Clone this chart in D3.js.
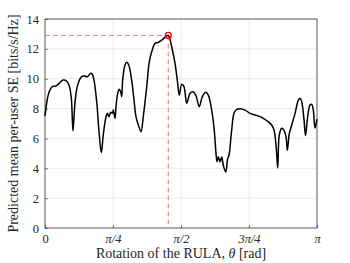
<!DOCTYPE html>
<html>
<head>
<meta charset="utf-8">
<script src="https://cdn.jsdelivr.net/npm/d3@7"></script>
<style>
  body { margin: 0; background: #fff; }
  svg { display: block; }
</style>
</head>
<body>
<div id="chart"></div>
<script>
// rotation angle theta [rad]
const theta = [0.000, 0.046, 0.084, 0.124, 0.162, 0.208, 0.239, 0.277, 0.304, 0.323,
  0.347, 0.373, 0.412, 0.450, 0.489, 0.528, 0.546, 0.566, 0.597, 0.624,
  0.650, 0.673, 0.701, 0.720, 0.739, 0.759, 0.777, 0.789, 0.809, 0.820,
  0.840, 0.858, 0.874, 0.886, 0.897, 0.924, 0.944, 0.967, 1.001, 1.028,
  1.051, 1.078, 1.109, 1.135, 1.175, 1.205, 1.244, 1.271, 1.309, 1.348,
  1.386, 1.424, 1.463, 1.502, 1.528, 1.551, 1.579, 1.605, 1.637, 1.675,
  1.706, 1.741, 1.782, 1.817, 1.856, 1.886, 1.925, 1.955, 1.975, 1.987,
  2.002, 2.021, 2.041, 2.059, 2.087, 2.110, 2.125, 2.156, 2.183, 2.214,
  2.252, 2.310, 2.368, 2.425, 2.483, 2.521, 2.579, 2.618, 2.645, 2.668,
  2.688, 2.706, 2.734, 2.760, 2.784, 2.799, 2.822, 2.850, 2.888, 2.926,
  2.945, 2.965, 2.992, 3.009, 3.034, 3.061, 3.080, 3.099, 3.118, 3.1416];

// predicted mean per-user SE [bits/s/Hz]
const se = [7.5, 9.1, 9.47, 9.5, 9.69, 9.91, 9.89, 9.58, 8.69, 6.5,
  8.46, 9.47, 10.07, 10.2, 10.13, 10.36, 10.3, 9.9, 8.46, 6.45,
  5.05, 6.23, 7.35, 7.68, 7.46, 7.75, 7.68, 7.9, 7.35, 8.13,
  9.02, 9.29, 9.13, 8.8, 9.91, 10.92, 11.1, 10.92, 9.91, 8.57,
  7.46, 6.9, 6.45, 7.46, 9.47, 11.14, 12.03, 12.37, 12.43, 12.59,
  12.77, 12.9, 12.14, 11.03, 9.91, 8.9, 9.62, 9.47, 8.35, 9.02,
  9.13, 8.9, 8.13, 8.8, 9.09, 8.9, 7.9, 6.56, 5.0, 4.44,
  4.78, 4.44, 4.75, 4.2, 3.75, 4.64, 4.87, 6.56, 7.68, 7.95,
  7.99, 7.9, 7.68, 7.57, 7.46, 7.35, 7.12, 6.9, 6.56, 5.56,
  4.02, 6.23, 6.68, 6.56, 6.11, 5.2, 6.34, 6.9, 7.68, 8.57,
  8.69, 8.46, 7.23, 6.2, 7.46, 8.24, 8.28, 7.9, 6.7, 7.3];

const xTicks = [0, Math.PI / 4, Math.PI / 2, 3 * Math.PI / 4, Math.PI];
const xTickLabels = ["0", "π/4", "π/2", "3π/4", "π"];
const yTicks = [0, 2, 4, 6, 8, 10, 12, 14];

const width = 350, height = 263;
const margin = { top: 19, right: 33, bottom: 35, left: 45 };
const innerW = width - margin.left - margin.right;
const innerH = height - margin.top - margin.bottom;

const svg = d3.select("#chart").append("svg")
  .attr("width", width)
  .attr("height", height);

const g = svg.append("g")
  .attr("transform", `translate(${margin.left},${margin.top})`);

const x = d3.scaleLinear().domain([0, Math.PI]).range([0, innerW]);
const y = d3.scaleLinear().domain([0, 14]).range([innerH, 0]);

const font = "'Liberation Serif', 'DejaVu Serif', serif";

// Grid
g.append("g").selectAll("line")
  .data(yTicks)
  .join("line")
  .attr("x1", 0).attr("x2", innerW)
  .attr("y1", d => y(d)).attr("y2", d => y(d))
  .attr("stroke", "#e6e6e6").attr("stroke-width", 0.8);

g.append("g").selectAll("line")
  .data(xTicks)
  .join("line")
  .attr("x1", d => x(d)).attr("x2", d => x(d))
  .attr("y1", 0).attr("y2", innerH)
  .attr("stroke", "#e6e6e6").attr("stroke-width", 0.8);

// Axes
const yAxis = g.append("g")
  .call(d3.axisLeft(y).tickValues(yTicks).tickSize(-3).tickPadding(6));
const xAxis = g.append("g")
  .attr("transform", `translate(0,${innerH})`)
  .call(d3.axisBottom(x).tickValues(xTicks).tickSize(-3).tickPadding(6)
    .tickFormat((d, i) => xTickLabels[i]));

[xAxis, yAxis].forEach(ax => {
  ax.select(".domain").remove();
  ax.selectAll("line").attr("stroke", "#262626").attr("stroke-width", 0.6);
  ax.selectAll("text")
    .attr("fill", "#262626")
    .style("font-family", font)
    .style("font-size", "12.5px");
});
xAxis.selectAll("text").style("font-style", (d, i) => i === 0 ? "normal" : "italic");

// Box
g.append("rect")
  .attr("width", innerW).attr("height", innerH)
  .attr("fill", "none")
  .attr("stroke", "#262626").attr("stroke-width", 0.7);

// Optimum marker
const iMax = d3.maxIndex(se);
const px = x(theta[iMax]), py = y(se[iMax]);

g.append("line")
  .attr("x1", 0).attr("x2", px)
  .attr("y1", py).attr("y2", py)
  .attr("stroke", "#ff7474").attr("stroke-width", 1)
  .attr("stroke-dasharray", "5,3");

g.append("line")
  .attr("x1", px).attr("x2", px)
  .attr("y1", py).attr("y2", innerH)
  .attr("stroke", "#ff7474").attr("stroke-width", 1)
  .attr("stroke-dasharray", "5,3");

// Curve
const line = d3.line()
  .x((d, i) => x(theta[i]))
  .y(d => y(d))
  .curve(d3.curveCatmullRom.alpha(0.5));

g.append("path")
  .datum(se)
  .attr("d", line)
  .attr("fill", "none")
  .attr("stroke", "#000")
  .attr("stroke-width", 1.5)
  .attr("stroke-linejoin", "round");

g.append("circle")
  .attr("cx", px).attr("cy", py).attr("r", 3)
  .attr("fill", "none")
  .attr("stroke", "#ff0000").attr("stroke-width", 1.4);

// Labels
svg.append("text")
  .attr("x", margin.left + innerW / 2)
  .attr("y", height - 5)
  .attr("text-anchor", "middle")
  .attr("fill", "#262626")
  .style("font-family", font)
  .style("font-size", "14px")
  .html("Rotation of the RULA, <tspan font-style='italic'>θ</tspan> [rad]");

svg.append("text")
  .attr("transform", `translate(18,${margin.top + innerH / 2}) rotate(-90)`)
  .attr("text-anchor", "middle")
  .attr("fill", "#262626")
  .style("font-family", font)
  .style("font-size", "14px")
  .text("Predicted mean per-user SE [bits/s/Hz]");
</script>
</body>
</html>
